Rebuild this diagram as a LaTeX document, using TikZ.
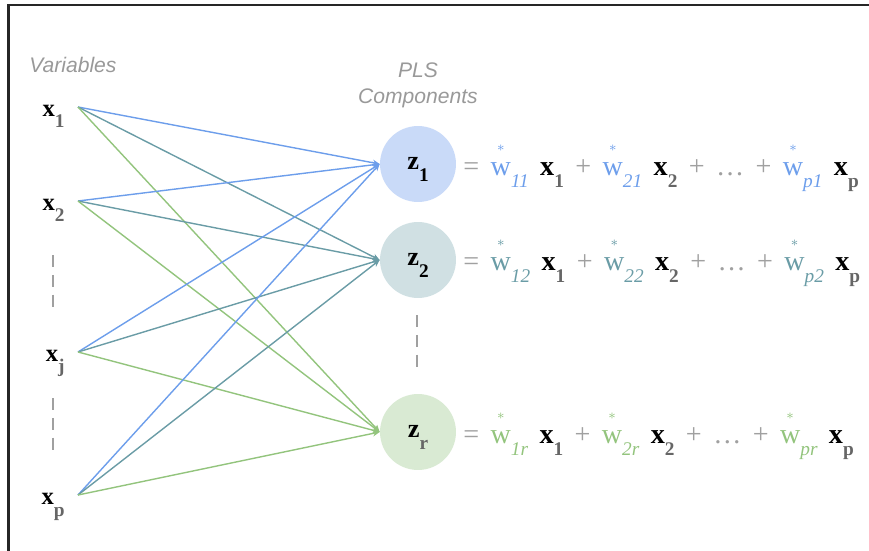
\documentclass[tikz,border=0pt]{standalone}
\usepackage{fontspec}
\setmainfont{Liberation Serif}
\setsansfont{Liberation Sans}
\usepackage{amsmath}
\usepackage{xcolor}
\usetikzlibrary{positioning,arrows.meta}

\definecolor{compblue}{HTML}{6D9EEB}
\definecolor{compteal}{HTML}{6A9CA6}
\definecolor{compgreen}{HTML}{93C47D}
\definecolor{fillblue}{HTML}{C9DAF8}
\definecolor{fillteal}{HTML}{D0E0E3}
\definecolor{fillgreen}{HTML}{D9EAD3}
\definecolor{headgray}{HTML}{999999}
\definecolor{opgray}{HTML}{A0A0A0}
\definecolor{subgray}{HTML}{666666}

% lowered subscript, weight with star, variable
\newcommand{\lo}[1]{\raisebox{-0.45em}{\fontsize{11}{11}\selectfont #1}}
\newcommand{\wstar}{\ensuremath{\overset{\raisebox{2.5pt}{$\scriptscriptstyle\ast$}}{\text{w}}}}
\newcommand{\wt}[2]{\textcolor{#1}{\wstar\lo{\itshape #2}}}
\newcommand{\xv}[1]{\textbf{x}\lo{\bfseries\color{subgray}#1}}
\newcommand{\op}[1]{\textcolor{opgray}{#1}}
\newcommand{\gap}{\hspace{6.5pt}}

\begin{document}
\begin{tikzpicture}[
  x=0.02cm, y=-0.02cm,
  var/.style={anchor=east, inner xsep=0.26cm, inner ysep=0pt,
              text height=11.3pt, text depth=0pt, font=\fontsize{14}{14}\selectfont},
  comp/.style={circle, minimum size=1.52cm, inner sep=0pt,
               text height=6.5pt, text depth=0pt, font=\fontsize{15}{15}\selectfont},
  eqn/.style={anchor=base west, inner sep=0pt, font=\fontsize{16}{16}\selectfont},
  heading/.style={font=\fontsize{12}{15}\selectfont\sffamily\itshape, text=headgray,
                  align=center, inner sep=0pt},
  link/.style={line width=0.8pt, -{Stealth[length=4pt,width=3.5pt]}},
  vdots/.style={draw=opgray, line width=1.3pt, dash pattern=on 6.8pt off 4.5pt},
  frame/.style={draw=black!85, line width=1.2pt}
]
  \useasboundingbox (0,0) rectangle (869,551);
  \draw[frame] (8.5,551) -- (8.5,5) -- (869,5);

  % variables
  \node[heading, anchor=base west] (varhead) at (29,72) {Variables};
  \node[var] (x1) at (78,107) {\xv{1}};
  \node[var] (x2) at (78,201) {\xv{2}};
  \node[var] (xj) at (78,352) {\xv{j}};
  \node[var] (xp) at (78,495) {\xv{p}};
  \draw[vdots] (53,255) -- (53,310);
  \draw[vdots] (53,398) -- (53,452);

  % components
  \node[comp, fill=fillblue] (z1) at (418,164) {\textbf{z}\lo{\bfseries 1}};
  \node[comp, fill=fillteal] (z2) at (418,260) {\textbf{z}\lo{\bfseries 2}};
  \node[comp, fill=fillgreen] (zr) at (418,432) {\textbf{z}\lo{\bfseries\color{subgray}r}};
  \node[heading, above=0.34cm of z1] (plshead) {PLS\\Components};
  \draw[vdots] (417,315) -- (417,369);

  \foreach \v in {x1,x2,xj,xp} {
    \draw[link, compblue] (\v.east) -- (z1.west);
    \draw[link, compteal] (\v.east) -- (z2.west);
    \draw[link, compgreen] (\v.east) -- (zr.west);
  }

  % equations
  \node[eqn] (eq1) at (463,175) {\op{=}\gap\wt{compblue}{11}\gap\xv{1}\gap\op{+}\gap
    \wt{compblue}{21}\gap\xv{2}\gap\op{+}\gap\op{\dots}\gap\op{+}\gap\wt{compblue}{p1}\gap\xv{p}};
  \node[eqn] (eq2) at (463,270) {\op{=}\gap\wt{compteal}{12}\gap\xv{1}\gap\op{+}\gap
    \wt{compteal}{22}\gap\xv{2}\gap\op{+}\gap\op{\dots}\gap\op{+}\gap\wt{compteal}{p2}\gap\xv{p}};
  \node[eqn] (eqr) at (463,443) {\op{=}\gap\wt{compgreen}{1r}\gap\xv{1}\gap\op{+}\gap
    \wt{compgreen}{2r}\gap\xv{2}\gap\op{+}\gap\op{\dots}\gap\op{+}\gap\wt{compgreen}{pr}\gap\xv{p}};
\end{tikzpicture}
\end{document}
